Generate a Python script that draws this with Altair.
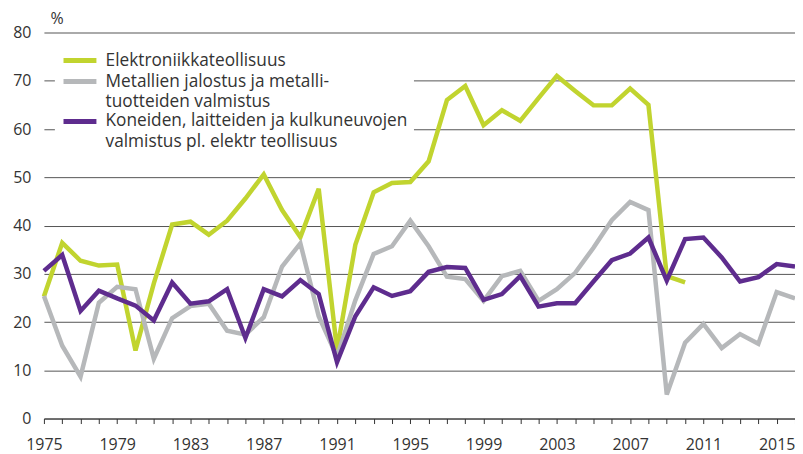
import altair as alt
import pandas as pd

years = list(range(1975, 2017))

elektroniikka = [25.3, 36.4, 32.7, 31.7, 31.9, 14.1, 28.0, 40.2, 40.8, 38.1,
                 41.0, 45.6, 50.6, 43.2, 37.6, 47.6, 14.2, 36.0, 46.9, 48.8,
                 49.0, 53.3, 66.0, 68.9, 60.8, 63.9, 61.7, 66.4, 71.0, 67.9,
                 64.9, 64.9, 68.4, 65.0, 29.5, 28.2,
                 None, None, None, None, None, None]

metallit = [25.4, 15.1, 8.7, 24.0, 27.3, 26.8, 12.4, 20.8, 23.3, 23.8,
            18.2, 17.4, 21.0, 31.5, 36.3, 21.2, 12.8, 24.5, 34.1, 35.7,
            41.0, 35.7, 29.4, 28.9, 24.4, 29.5, 30.6, 24.4, 26.8, 30.2,
            35.4, 41.1, 44.9, 43.2, 5.0, 15.7, 19.6, 14.6, 17.5, 15.5,
            26.2, 24.9]

koneet = [30.6, 33.9, 22.3, 26.5, 24.9, 23.4, 20.3, 28.2, 23.8, 24.3,
          26.8, 16.7, 26.8, 25.3, 28.7, 25.8, 11.7, 21.2, 27.2, 25.4,
          26.4, 30.4, 31.4, 31.2, 24.6, 25.8, 29.5, 23.2, 23.9, 23.9,
          28.4, 32.8, 34.2, 37.5, 28.6, 37.2, 37.5, 33.4, 28.4, 29.3,
          32.0, 31.5]

series_names = [
    "Elektroniikkateollisuus",
    "Metallien jalostus ja metalli-|tuotteiden valmistus",
    "Koneiden, laitteiden ja kulkuneuvojen|valmistus pl. elektr teollisuus",
]
series_values = [elektroniikka, metallit, koneet]
series_colors = ["#c1d42f", "#b6b8ba", "#5e2c8e"]

y_ticks = list(range(0, 81, 10))

rows = []
for name, vals in zip(series_names, series_values):
    for yr, v in zip(years, vals):
        if v is not None:
            rows.append({"year": yr, "value": v, "series": name})
df = pd.DataFrame(rows)

FONT = "Open Sans"
TXT = "#333333"

color_scale = alt.Scale(domain=series_names, range=series_colors)

x_enc = alt.X(
    "year:Q",
    scale=alt.Scale(domain=[1975, 2016], nice=False, zero=False),
    axis=alt.Axis(
        values=years,
        labelExpr="(datum.value - 1975) % 4 == 0 ? datum.value : ''",
        grid=False,
        domainColor="#333333",
        tickColor="#333333",
        tickSize=5,
        labelPadding=13,
        labelFontSize=16,
        labelFont=FONT,
        labelColor=TXT,
        labelOverlap=False,
        labelFlush=False,
        title=None,
    ),
)

y_enc = alt.Y(
    "value:Q",
    scale=alt.Scale(domain=[0, 80], nice=False),
    axis=alt.Axis(
        values=y_ticks,
        grid=True,
        gridColor="#555555",
        gridWidth=1,
        domain=False,
        ticks=False,
        labelPadding=13,
        labelFontSize=16,
        labelFont=FONT,
        labelColor=TXT,
        title="%",
        titleAngle=0,
        titleAlign="left",
        titleBaseline="middle",
        titleX=6,
        titleY=-14,
        titleFont=FONT,
        titleFontSize=16,
        titleFontWeight="normal",
        titleColor=TXT,
    ),
)

legend = alt.Legend(
    title=None,
    orient="none",
    legendX=11,
    legendY=13.5,
    symbolType="M-3,0L3,0",
    symbolSize=121,
    symbolStrokeWidth=5,
    symbolOffset=10.5,
    labelFont=FONT,
    labelFontSize=17.3,
    labelColor=TXT,
    labelExpr="split(datum.label, '|')",
    labelLimit=400,
    labelOffset=17,
    rowPadding=0,
    padding=6,
    fillColor="white",
)

layers = []
for i, name in enumerate(series_names):
    layers.append(
        alt.Chart(df)
        .transform_filter(alt.datum.series == name)
        .mark_line(strokeWidth=4.5, strokeJoin="miter")
        .encode(
            x=x_enc,
            y=y_enc,
            color=alt.Color("series:N", scale=color_scale, legend=legend),
        )
    )

chart = (
    alt.layer(*layers)
    .properties(
        width=753,
        height=387,
        autosize=alt.AutoSizeParams(type="none"),
        padding={"left": 36, "top": 24, "right": 0, "bottom": 40},
    )
    .configure(
        view=alt.ViewConfig(strokeWidth=0),
        style={"guide-label": {"lineHeight": 21}},
    )
)

chart.save("out.html", embed_options={"renderer": "svg", "actions": False})
